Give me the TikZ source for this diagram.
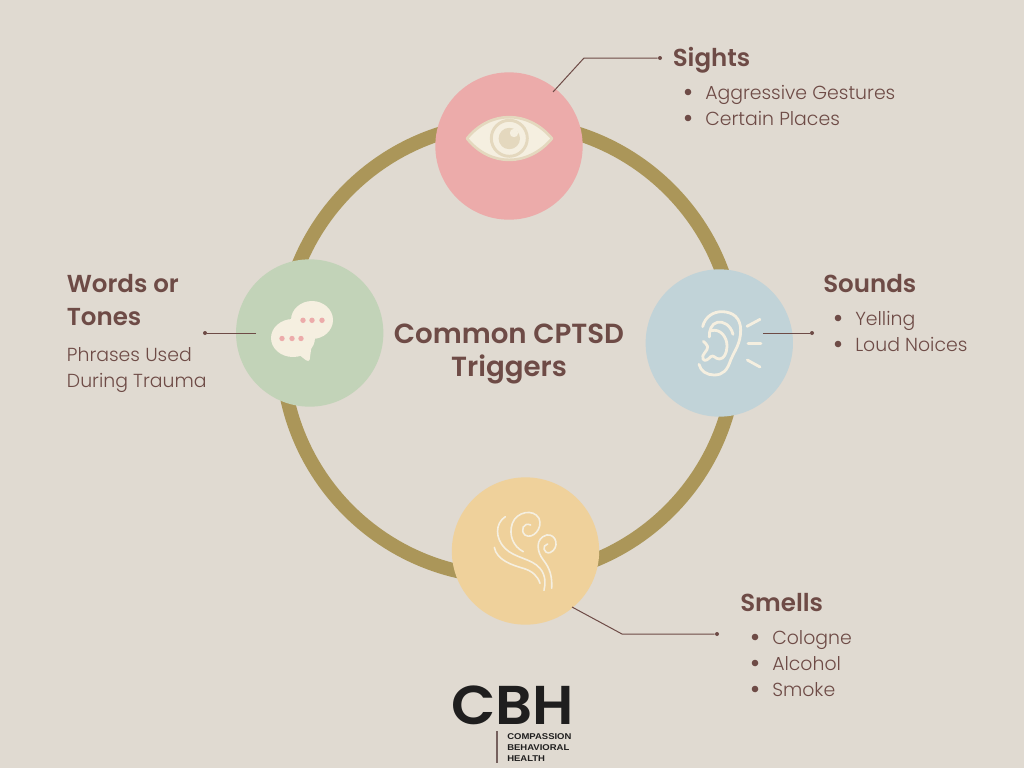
\documentclass[tikz,border=0pt]{standalone}
\usepackage{fontspec}
\setmainfont{Poppins}[UprightFont=*-Light,BoldFont=*-SemiBold]
\newfontfamily\logofont{Liberation Sans}
\definecolor{bgc}{HTML}{E0DAD1}
\definecolor{ringc}{HTML}{AB9659}
\definecolor{pinkc}{HTML}{ECABAA}
\definecolor{greenc}{HTML}{C2D3B8}
\definecolor{bluec}{HTML}{C1D3D8}
\definecolor{yellowc}{HTML}{EFD19B}
\definecolor{textc}{HTML}{6E4B46}
\definecolor{creamc}{HTML}{F5EFE0}
\definecolor{tanc}{HTML}{E4D8BE}
\definecolor{inkc}{HTML}{1F1E1E}
\tikzset{
  disc/.style={circle,minimum size=110.5pt,inner sep=0pt,fill=#1},
  head/.style={anchor=base west,inner sep=0pt,text=textc,font=\fontsize{18.4}{22}\selectfont\bfseries},
  body/.style={anchor=base west,inner sep=0pt,text=textc,font=\fontsize{14.15}{18}\selectfont},
  bul/.style={fill=textc},
  lead/.style={draw=textc,line width=0.75pt},
  tipdot/.style={circle,fill=textc,inner sep=0pt,minimum size=3pt},
  earline/.style={draw=creamc,line width=2.1pt,line cap=round,line join=round},
  windline/.style={draw=creamc,line width=1.2pt,line cap=round},
  pip/.style={fill=pinkc},
  logosmall/.style={anchor=base west,inner sep=0pt,text=inkc,xscale=1.13,font=\logofont\fontsize{6.3}{6.3}\selectfont\bfseries}
}
\begin{document}
\begin{tikzpicture}[x=0.75pt,y=-0.75pt]
\useasboundingbox (0,0) rectangle (1024,768);
\fill[bgc] (0,0) rectangle (1024,768);
\node[circle,draw=ringc,line width=10.5pt,minimum size=340.5pt,inner sep=0pt] (ring) at (509,350) {};
\node[disc=pinkc] (sights) at (509,146) {};
\node[disc=greenc] (words) at (309.7,333) {};
\node[disc=bluec] (sounds) at (719.3,343) {};
\node[disc=yellowc] (smells) at (525.5,551) {};
% eye
\draw[fill=creamc,draw=tanc,line width=2pt,line join=round] (467,138.5) .. controls (490,110) and (528,110) .. (552,138.5) .. controls (528,167) and (490,167) .. cycle;
\draw[tanc,line width=2.2pt] (509.3,138.3) circle[radius=18];
\fill[tanc] (509.3,138.5) circle[radius=10.7];
\fill[creamc] (514,133) circle[radius=4.2];
% chat
\fill[creamc] (312,320) ellipse[x radius=21,y radius=19];
\fill[creamc] (293,338) ellipse[x radius=22,y radius=19];
\fill[creamc,rounded corners=1pt] (313,335) -- (309.5,361) -- (307,361) -- (298,354) -- cycle;
\foreach \px in {303,312,322}{\fill[pip] (\px,320.3) circle[radius=2.7];}
\foreach \px in {282,292,301}{\fill[pip] (\px,338.5) circle[radius=2.7];}
% ear
\begin{scope}[shift={(640,265)},x=0.25pt,y=-0.25pt]
\draw[earline] (188,185) .. controls (195,155) and (220,140) .. (245,140) .. controls (280,140) and (302,160) .. (302,195) .. controls (302,235) and (285,255) .. (272,285) .. controls (262,315) and (250,330) .. (222,330) .. controls (200,330) and (182,318) .. (177,298);
\draw[earline] (279,208) .. controls (272,180) and (250,168) .. (232,172) .. controls (215,176) and (207,195) .. (208,216);
\draw[earline] (214,197) .. controls (240,190) and (262,215) .. (261,245) .. controls (260,265) and (252,282) .. (238,282) .. controls (225,282) and (222,268) .. (212,275) .. controls (205,282) and (195,292) .. (189,282) .. controls (182,268) and (205,258) .. (203,245) .. controls (202,238) and (195,235) .. (190,229);
\draw[earline] (321,184) -- (360,163);
\draw[earline] (324,235) -- (363,235);
\draw[earline] (322,285) -- (360,306);
\end{scope}
% wind
\begin{scope}[shift={(445,470)},x=0.25pt,y=-0.25pt]
\draw[windline] (181,140) .. controls (150,160) and (150,205) .. (180,235) .. controls (210,265) and (260,265) .. (285,295) .. controls (302,315) and (302,340) .. (297,361);
\draw[windline] (148,232) .. controls (155,270) and (200,285) .. (235,295) .. controls (262,303) and (278,318) .. (285,340);
\draw[windline] (235,245) .. controls (205,230) and (190,195) .. (202,160) .. controls (215,125) and (265,115) .. (282,145) .. controls (295,175) and (262,210) .. (240,195) .. controls (225,182) and (235,155) .. (257,165);
\draw[windline] (320,355) .. controls (322,320) and (315,295) .. (295,270) .. controls (275,245) and (270,205) .. (305,195) .. controls (335,190) and (345,235) .. (315,248) .. controls (295,252) and (290,225) .. (308,222);
\end{scope}
% leaders
\coordinate (sa) at (553,92); \coordinate (sb) at (584,58);
\node[tipdot] (st) at (660,58) {};
\draw[lead] (sa) -- (sb) -- (st);
\node[tipdot] (wt) at (205,333) {};
\coordinate (wa) at (256,333);
\draw[lead] (wa) -- (wt);
\coordinate (oa) at (763,333);
\node[tipdot] (ot) at (812,333) {};
\draw[lead] (oa) -- (ot);
\coordinate (ma) at (572,607); \coordinate (mb) at (622,634);
\node[tipdot] (mt) at (717,634) {};
\draw[lead] (ma) -- (mb) -- (mt);
% centre
\node[anchor=base,inner sep=0pt,text=textc,font=\fontsize{20.75}{25}\selectfont\bfseries] (t1) at (509,343) {Common CPTSD};
\node[anchor=base,inner sep=0pt,text=textc,font=\fontsize{20.75}{25}\selectfont\bfseries] (t2) at (509,376) {Triggers};
% bullets
\foreach \bx/\by in {688/92,688/118,838/318,838/344,755/637,755/663,755/689}{\fill[bul] (\bx,\by) circle[radius=3.3];}
% sights
\node[head] (h1) at (672.5,66) {Sights};
\node[body] (a11) at (705,99) {Aggressive Gestures};
\node[body] (a12) at (705,125) {Certain Places};
% words
\node[head] (h2) at (66.5,292) {Words or};
\node[head] (h2b) at (66.5,325) {Tones};
\node[body] (a21) at (66.7,361) {Phrases Used};
\node[body] (a22) at (66.7,387) {During Trauma};
% sounds
\node[head] (h3) at (823,292) {Sounds};
\node[body] (a31) at (855,325) {Yelling};
\node[body] (a32) at (855,351) {Loud Noices};
% smells
\node[head] (h4) at (740,611) {Smells};
\node[body] (a41) at (772,644) {Cologne};
\node[body] (a42) at (772,670) {Alcohol};
\node[body] (a43) at (772,696) {Smoke};
% logo
\node[anchor=base,inner sep=0pt,text=inkc,xscale=1.055,font=\fontsize{41}{41}\selectfont\bfseries] (cbh) at (512.5,724) {CBH};
\draw[draw=textc!60!gray,line width=0.8pt] (497,731) -- (497,763);
\node[logosmall] (l1) at (507,739.5) {COMPASSION};
\node[logosmall] (l2) at (507,750) {BEHAVIORAL};
\node[logosmall] (l3) at (507,761) {HEALTH};
\end{tikzpicture}
\end{document}
